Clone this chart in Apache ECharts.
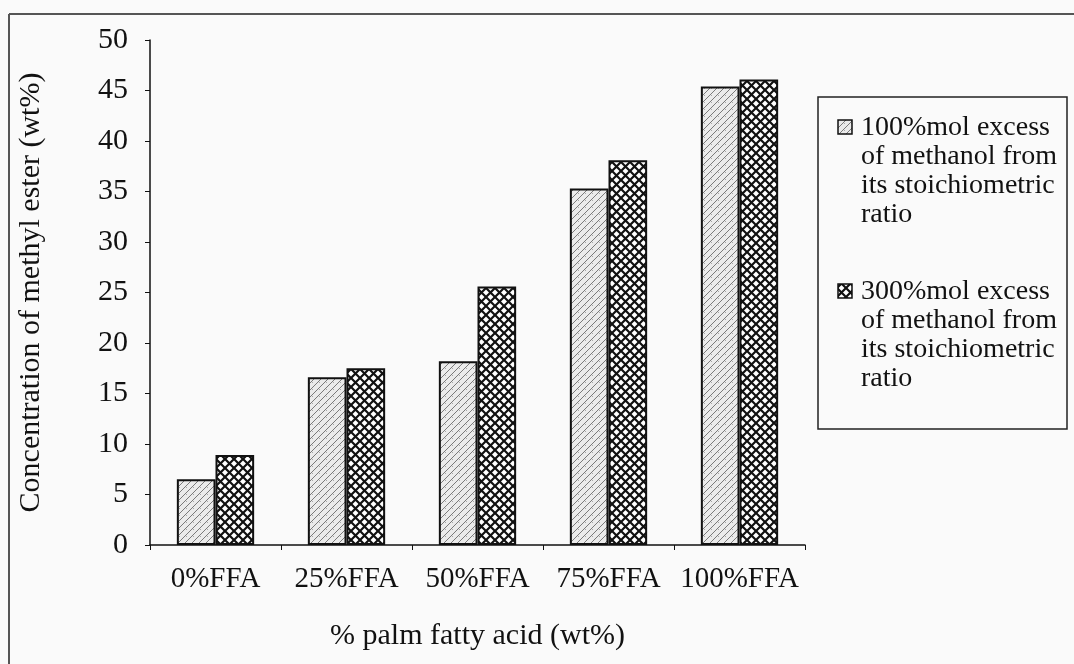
<!DOCTYPE html>
<html>
<head>
<meta charset="utf-8">
<script src="https://cdn.jsdelivr.net/npm/echarts@6/dist/echarts.min.js"></script>
<style>
html,body{margin:0;padding:0;background:#fafafa;}
#chart{width:1074px;height:664px;}
</style>
</head>
<body>
<div id="chart"></div>
<script>
const categories = ['0%FFA', '25%FFA', '50%FFA', '75%FFA', '100%FFA'];
const series100 = [6.5, 16.6, 18.2, 35.3, 45.4];
const series300 = [8.9, 17.5, 25.6, 38.1, 46.1];
const seriesNames = [
  '100%mol excess\nof methanol from\nits stoichiometric\nratio',
  '300%mol excess\nof methanol from\nits stoichiometric\nratio'
];
const yTicks = { min: 0, max: 50, interval: 5 };

function hatchPattern() {
  const c = document.createElement('canvas');
  c.width = 7; c.height = 7;
  const g = c.getContext('2d');
  g.fillStyle = '#ebebeb';
  g.fillRect(0, 0, 7, 7);
  g.strokeStyle = '#7a7a7a';
  g.lineWidth = 1;
  g.beginPath();
  g.moveTo(-1, 8); g.lineTo(8, -1);
  g.moveTo(-1, 1); g.lineTo(1, -1);
  g.moveTo(6, 8); g.lineTo(8, 6);
  g.stroke();
  g.fillStyle = '#a8a8a8';
  g.fillRect(4, 4, 1, 1);
  return c;
}
function crossPattern() {
  const c = document.createElement('canvas');
  c.width = 9; c.height = 9;
  const g = c.getContext('2d');
  g.fillStyle = '#ffffff';
  g.fillRect(0, 0, 9, 9);
  g.strokeStyle = '#111111';
  g.lineWidth = 2.2;
  g.beginPath();
  g.moveTo(-1, -1); g.lineTo(10, 10);
  g.moveTo(-1, 10); g.lineTo(10, -1);
  g.stroke();
  return c;
}
const pat1 = { image: hatchPattern(), repeat: 'repeat' };
const pat2 = { image: crossPattern(), repeat: 'repeat' };

const chart = echarts.init(document.getElementById('chart'), null, { renderer: 'canvas' });
const FONT = '"Liberation Serif", "Times New Roman", serif';
const txt = '#111';

chart.setOption({
  backgroundColor: '#fafafa',
  animation: false,
  grid: { left: 150, right: 269, top: 40, bottom: 119, containLabel: false },
  xAxis: {
    type: 'category',
    data: categories,
    axisLine: { lineStyle: { color: '#111', width: 1.5 } },
    axisTick: { show: true, length: 5, lineStyle: { color: '#111' } },
    axisLabel: { color: txt, fontFamily: FONT, fontSize: 29, margin: 20, interval: 0 },
    name: '% palm fatty acid (wt%)',
    nameLocation: 'middle',
    nameGap: 76,
    nameTextStyle: { color: txt, fontFamily: FONT, fontSize: 30, verticalAlign: 'top' }
  },
  yAxis: {
    type: 'value',
    min: yTicks.min, max: yTicks.max, interval: yTicks.interval,
    splitLine: { show: false },
    axisLine: { show: true, lineStyle: { color: '#111', width: 1.5 } },
    axisTick: { show: true, length: 5, lineStyle: { color: '#111' } },
    axisLabel: { color: txt, fontFamily: FONT, fontSize: 30, margin: 22 },
    name: 'Concentration of methyl ester (wt%)',
    nameLocation: 'middle',
    nameGap: 104,
    nameTextStyle: { color: txt, fontFamily: FONT, fontSize: 30 }
  },
  series: [
    {
      name: seriesNames[0], type: 'bar', data: series100,
      barGap: '0%', barCategoryGap: '41%',
      itemStyle: { color: pat1, borderColor: '#111', borderWidth: 2 }
    },
    {
      name: seriesNames[1], type: 'bar', data: series300,
      barGap: '0%', barCategoryGap: '41%',
      itemStyle: { color: pat2, borderColor: '#111', borderWidth: 2 }
    }
  ],
  graphic: [
    { type: 'line', shape: { x1: 9, y1: 14, x2: 1074, y2: 14 }, style: { stroke: '#555', lineWidth: 2 } },
    { type: 'line', shape: { x1: 9, y1: 14, x2: 9, y2: 664 }, style: { stroke: '#555', lineWidth: 2 } },
    { type: 'rect', shape: { x: 818, y: 97, width: 249, height: 332 }, style: { fill: 'none', stroke: '#222', lineWidth: 1.5 } },
    { type: 'rect', shape: { x: 838, y: 120, width: 14, height: 14 }, style: { fill: pat1, stroke: '#111', lineWidth: 1.5 } },
    { type: 'text', x: 861, y: 113, style: { text: seriesNames[0], font: '28px ' + FONT, fill: txt, lineHeight: 29 } },
    { type: 'rect', shape: { x: 838, y: 284, width: 14, height: 14 }, style: { fill: pat2, stroke: '#111', lineWidth: 1.5 } },
    { type: 'text', x: 861, y: 277, style: { text: seriesNames[1], font: '28px ' + FONT, fill: txt, lineHeight: 29 } }
  ]
});
</script>
</body>
</html>
